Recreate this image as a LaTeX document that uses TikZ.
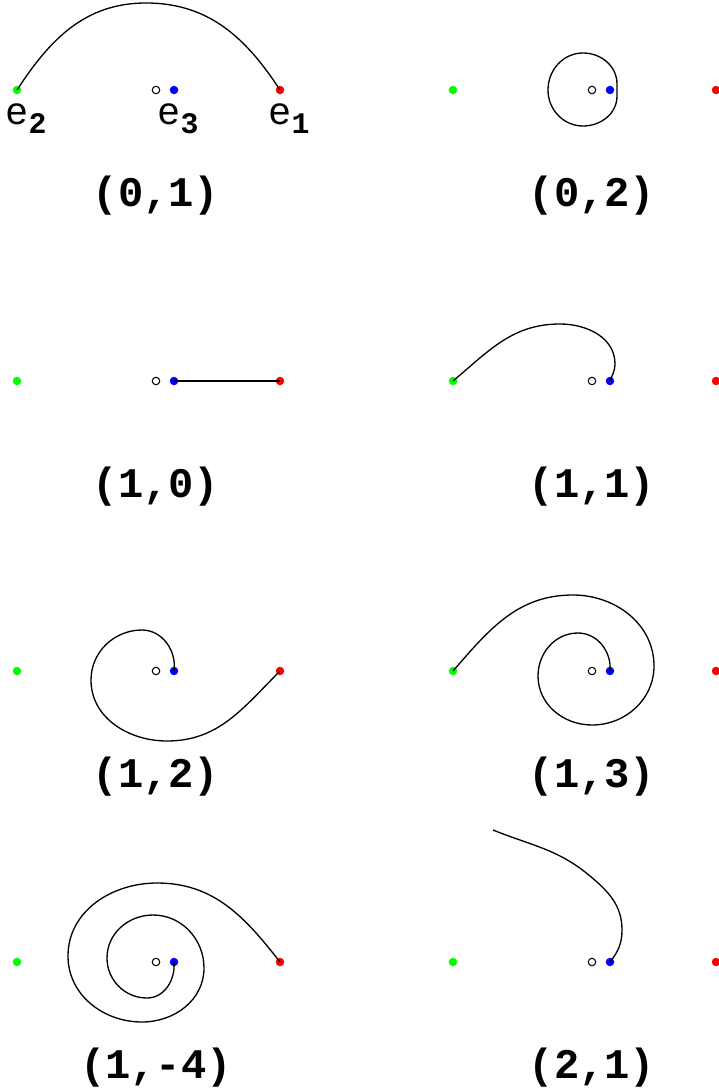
\documentclass[tikz,border=0pt]{standalone}
\usepackage{fontspec}
\setmonofont{Liberation Mono}
\usepackage{tikz}

\newcommand{\eidx}[1]{\raisebox{-5pt}{\bfseries\fontsize{17}{17}\selectfont #1}}

\begin{document}
\begin{tikzpicture}[x=0.02cm, y=0.02cm]
    \tikzstyle{dot}=[circle, inner sep=0pt, minimum size=0.17cm]
    \tikzstyle{rdot}=[dot, fill=red]
    \tikzstyle{gdot}=[dot, fill=green]
    \tikzstyle{bdot}=[dot, fill=blue]
    \tikzstyle{orig}=[dot, draw=black, line width=0.6pt, minimum size=0.15cm]
    \tikzstyle{orbit}=[draw=black, line width=0.75pt]
    \tikzstyle{tag}=[font=\ttfamily\bfseries\fontsize{24}{24}\selectfont, inner sep=0pt]
    \tikzstyle{elabel}=[font=\ttfamily\fontsize{22}{22}\selectfont, anchor=base, inner sep=0pt]

    \useasboundingbox (0,0) rectangle (718,-1088);

    % (0,1)
    \begin{scope}[shift={(156,-90)}]
        \node[orig] (ao)  at (0,0)    {};
        \node[gdot] (ae2) at (-139,0) {};
        \node[bdot] (ae3) at (18,0)   {};
        \node[rdot] (ae1) at (124,0)  {};
        \draw[orbit] (ae2.center) to[out=57,in=180] (-10,87) to[out=0,in=123] (ae1.center);
        \node[elabel] (le2) at (-130,-35) {e\eidx{2}};
        \node[elabel] (le3) at (22,-35)   {e\eidx{3}};
        \node[elabel] (le1) at (133,-35)  {e\eidx{1}};
        \node[tag] (alab) at (0,-106) {(0,1)};
    \end{scope}

    % (0,2)
    \begin{scope}[shift={(592,-90)}]
        \node[orig] (bo)  at (0,0)    {};
        \node[gdot] (be2) at (-139,0) {};
        \node[bdot] (be3) at (18,0)   {};
        \node[rdot] (be1) at (124,0)  {};
        \draw[orbit] (25,-6) -- (25,6) to[out=90,in=0] (-9,37) to[out=180,in=90] (-44,0)
            to[out=-90,in=180] (-9,-36) to[out=0,in=-90] cycle;
        \node[tag] (blab) at (0,-106) {(0,2)};
    \end{scope}

    % (1,0)
    \begin{scope}[shift={(156,-381)}]
        \node[orig] (co)  at (0,0)    {};
        \node[gdot] (ce2) at (-139,0) {};
        \node[bdot] (ce3) at (18,0)   {};
        \node[rdot] (ce1) at (124,0)  {};
        \draw[orbit] (ce3.center) -- (ce1.center);
        \node[tag] (clab) at (0,-106) {(1,0)};
    \end{scope}

    % (1,1)
    \begin{scope}[shift={(592,-381)}]
        \node[orig] (do)  at (0,0)    {};
        \node[gdot] (de2) at (-139,0) {};
        \node[bdot] (de3) at (18,0)   {};
        \node[rdot] (de1) at (124,0)  {};
        \draw[orbit] (de2.center) to[out=40,in=180] (-32,57) to[out=0,in=90] (23,17)
            to[out=-90,in=70] (de3.center);
        \node[tag] (dlab) at (0,-106) {(1,1)};
    \end{scope}

    % (1,2)
    \begin{scope}[shift={(156,-671)}]
        \node[orig] (eo)  at (0,0)    {};
        \node[gdot] (ee2) at (-139,0) {};
        \node[bdot] (ee3) at (18,0)   {};
        \node[rdot] (ee1) at (124,0)  {};
        \draw[orbit] (ee3.center) to[out=82,in=0] (-14,41) to[out=180,in=90] (-65,-9)
            to[out=-90,in=180] (11,-70) to[out=0,in=225] (ee1.center);
        \node[tag] (elab) at (0,-106) {(1,2)};
    \end{scope}

    % (1,3)
    \begin{scope}[shift={(592,-671)}]
        \node[orig] (fo)  at (0,0)    {};
        \node[gdot] (fe2) at (-139,0) {};
        \node[bdot] (fe3) at (18,0)   {};
        \node[rdot] (fe1) at (124,0)  {};
        \draw[orbit] (fe3.center) to[out=85,in=0] (-14,38) to[out=180,in=90] (-54,-5)
            to[out=-90,in=180] (0,-54) to[out=0,in=-90] (62,5) to[out=90,in=0] (-19,76)
            to[out=180,in=49] (fe2.center);
        \node[tag] (flab) at (0,-106) {(1,3)};
    \end{scope}

    % (1,-4)
    \begin{scope}[shift={(156,-962)}]
        \node[orig] (go)  at (0,0)    {};
        \node[gdot] (ge2) at (-139,0) {};
        \node[bdot] (ge3) at (18,0)   {};
        \node[rdot] (ge1) at (124,0)  {};
        \draw[orbit] (ge3.center) to[out=-85,in=0] (-9,-36) to[out=180,in=-90] (-49,4)
            to[out=90,in=180] (-3,47) to[out=0,in=90] (48,-6) to[out=-90,in=0] (-14,-60)
            to[out=180,in=-90] (-88,6) to[out=90,in=180] (1,79) to[out=0,in=128] (ge1.center);
        \node[tag] (glab) at (0,-106) {(1,-4)};
    \end{scope}

    % (2,1)
    \begin{scope}[shift={(592,-962)}]
        \node[orig] (ho)  at (0,0)    {};
        \node[gdot] (he2) at (-139,0) {};
        \node[bdot] (he3) at (18,0)   {};
        \node[rdot] (he1) at (124,0)  {};
        \coordinate (hend) at (-99,132);
        \draw[orbit] (he3.center) to[out=52,in=-90] (30,32) to[out=90,in=-40] (-2,86)
            to[out=140,in=-22] (hend);
        \node[tag] (hlab) at (0,-106) {(2,1)};
    \end{scope}
\end{tikzpicture}
\end{document}
